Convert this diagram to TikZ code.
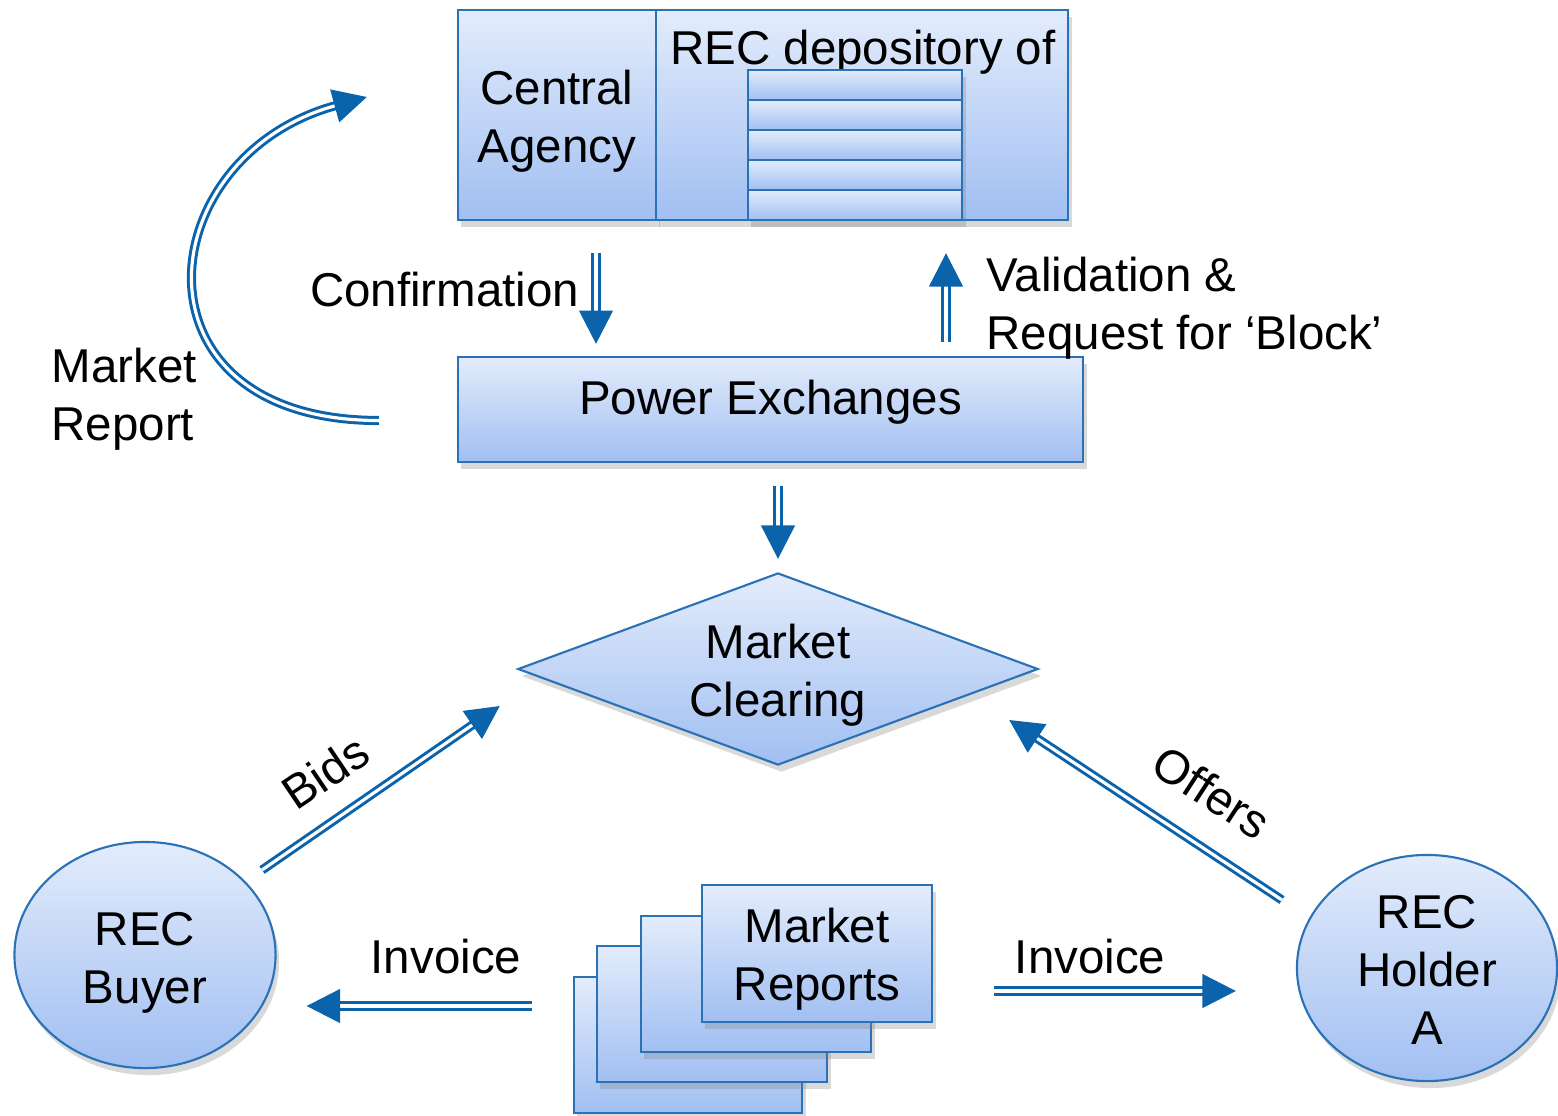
\documentclass[tikz,border=0pt]{standalone}
\usepackage{fontspec}
\setmainfont{Liberation Sans}
\usetikzlibrary{calc,arrows.meta,shapes.geometric,shadows}
\definecolor{edge}{HTML}{2A71B6}
\definecolor{flow}{HTML}{0A63AB}
\definecolor{paleblue}{HTML}{E3ECFB}
\definecolor{deepblue}{HTML}{A1BFF2}

\begin{document}
\begin{tikzpicture}[x=0.01cm, y=-0.01cm,
  every node/.style={font=\fontsize{13.5}{16.5}\selectfont},
  box/.style={draw=edge, line width=0.6pt, top color=paleblue, bottom color=deepblue,
    drop shadow={shadow xshift=1pt, shadow yshift=-2pt, opacity=0.3},
    inner sep=0pt, align=center},
  boxtext/.style 2 args={label={[lbl, align=center, yshift=#1]center:#2}},
  dbl/.style={draw=flow, line width=0.85pt, double=white, double distance=0.9pt,
    -{Triangle[length=9.5pt, width=9.5pt]}},
  lbl/.style={inner sep=0pt}]
\useasboundingbox (0,0) rectangle (1558,1115);

% central agency with its depository
\node[box, minimum width=1.98cm, minimum height=2.10cm, boxtext={-0.06cm}{Central\\Agency}] (agency) at (557,115) {};
\node[box, minimum width=4.12cm, minimum height=2.10cm] (depot) at (862,115) {};
\node[lbl] (depottitle) at (863,52) {REC depository of};
\foreach \i in {0,...,4} {
  \node[box, minimum width=2.14cm, minimum height=0.30cm] (row\i) at (855,{85+30*\i}) {};
}

\node[box, minimum width=6.25cm, minimum height=1.05cm, text depth=0.24cm] (pe) at (770.5,409.5) {Power Exchanges};
\node[box, diamond, aspect=2.7, minimum width=5.20cm, minimum height=1.92cm,
  boxtext={-0.06cm}{Market\\Clearing}] (market) at (778,669) {};

\node[box, ellipse, minimum width=2.61cm, minimum height=2.26cm, boxtext={-0.08cm}{REC\\Buyer}] (buyer) at (145,955) {};
\node[box, ellipse, minimum width=2.60cm, minimum height=2.26cm, boxtext={-0.02cm}{REC\\Holder\\A}] (holder) at (1427,968) {};

% stack of report sheets
\node[box, minimum width=2.28cm, minimum height=1.36cm] (sheet1) at (688,1045) {};
\node[box, minimum width=2.30cm, minimum height=1.36cm] (sheet2) at (712,1014) {};
\node[box, minimum width=2.30cm, minimum height=1.36cm] (sheet3) at (756,984) {};
\node[box, minimum width=2.30cm, minimum height=1.37cm, boxtext={-0.06cm}{Market\\Reports}] (reports) at (817,953.5) {};

% flows
\draw[dbl] ($(agency.south)+(39,32)$) -- ($(pe.north)+(-174.5,-12)$);
\draw[dbl] ($(pe.north)+(175.5,-14)$) -- ($(depot.south)+(84,32)$);
\draw[dbl] ($(pe.south)+(7.5,23)$) -- ($(market.north)+(0,-13)$);
\draw[dbl] ($(pe.west)+(-78,11)$) .. controls +(-255,0) and +(-218,60) .. ($(agency.west)+(-90,-18)$);
\draw[dbl] ($(buyer.center)+(117,-85)$) -- ($(market.west)+(-17,37)$);
\draw[dbl] ($(holder.center)+(-145,-68)$) -- ($(market.east)+(-30,51)$);
\draw[dbl] ($(sheet1.west)+(-41,-39)$) -- ($(buyer.east)+(30,51)$);
\draw[dbl] ($(reports.east)+(61,37.5)$) -- ($(holder.west)+(-60,23)$);

% labels
\node[lbl, anchor=east] (confirm) at (580,290) {Confirmation};
\node[lbl, anchor=west, align=left] (validate) at (986,308) {Validation \&\\Request for ‘Block’};
\node[lbl, anchor=west, align=left] (mreport) at (51,399) {Market\\Report};
\node[lbl, rotate=34] (bids) at (325,772) {Bids};
\node[lbl, rotate=-33] (offers) at (1212,792) {Offers};
\node[lbl] (invleft) at (446,957) {Invoice};
\node[lbl] (invright) at (1090,957) {Invoice};
\end{tikzpicture}
\end{document}
